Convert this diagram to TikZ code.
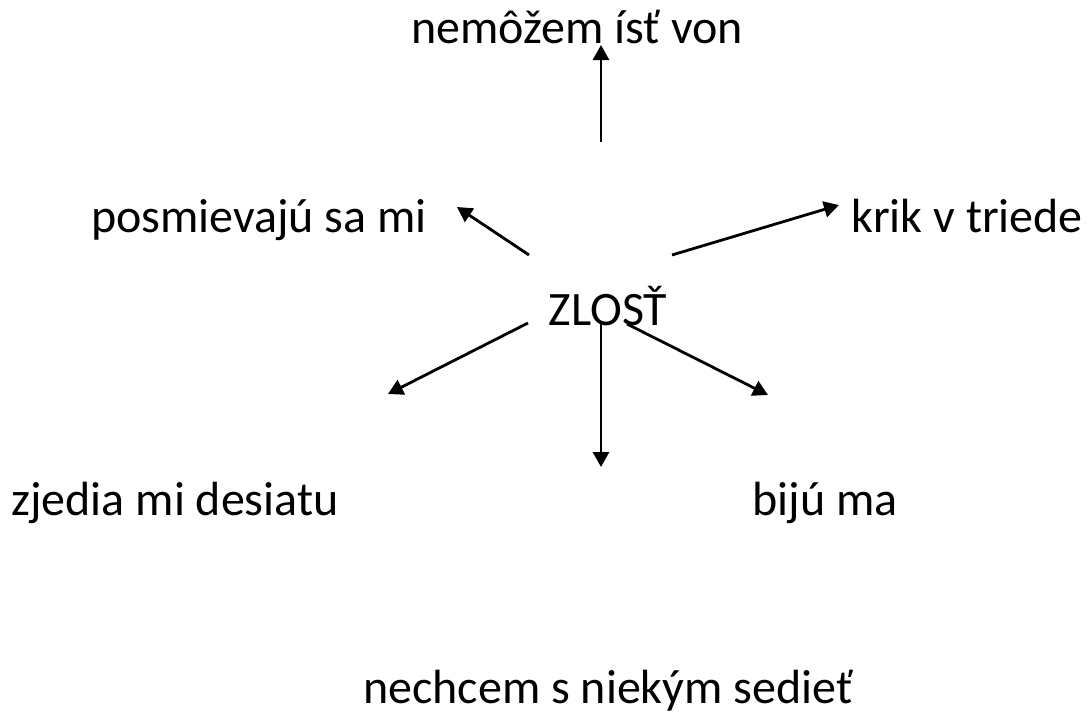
\documentclass[tikz,border=0pt]{standalone}
\usepackage{fontspec}
\setmainfont{Carlito}
\usetikzlibrary{arrows.meta}

\tikzset{
  lbl/.style={anchor=base, inner sep=0pt, font=\fontsize{24}{29}\selectfont},
  arr/.style={-{Triangle[length=7.5pt,width=8pt]}, line width=1.4pt}
}

\begin{document}
\begin{tikzpicture}[x=0.5pt,y=-0.5pt]
    \useasboundingbox (0,0) rectangle (1089,713);
    % labels
    \node[lbl] (zlost) at (608,325) {ZLOSŤ};
    \node[lbl] (von) at (577,43) {nemôžem ísť von};
    \node[lbl] (posmech) at (259,232) {posmievajú sa mi};
    \node[lbl] (krik) at (967,232) {krik v triede};
    \node[lbl] (desiata) at (175,515) {zjedia mi desiatu};
    \node[lbl] (bitka) at (825,515) {bijú ma};
    \node[lbl] (sedenie) at (608,703) {nechcem s niekým sedieť};
    % arrow ends
    \coordinate (s1) at (601,142);  \coordinate (t1) at (601,45);
    \coordinate (s2) at (529,255);  \coordinate (t2) at (457,207);
    \coordinate (s3) at (672,255);  \coordinate (t3) at (839,205);
    \coordinate (s4) at (528,323);  \coordinate (t4) at (388,394);
    \coordinate (s5) at (601,323);  \coordinate (t5) at (601,467);
    \coordinate (s6) at (627,324);  \coordinate (t6) at (768,395);
    \foreach \i in {1,...,6}
        \draw[arr] (s\i) -- (t\i);
\end{tikzpicture}
\end{document}
